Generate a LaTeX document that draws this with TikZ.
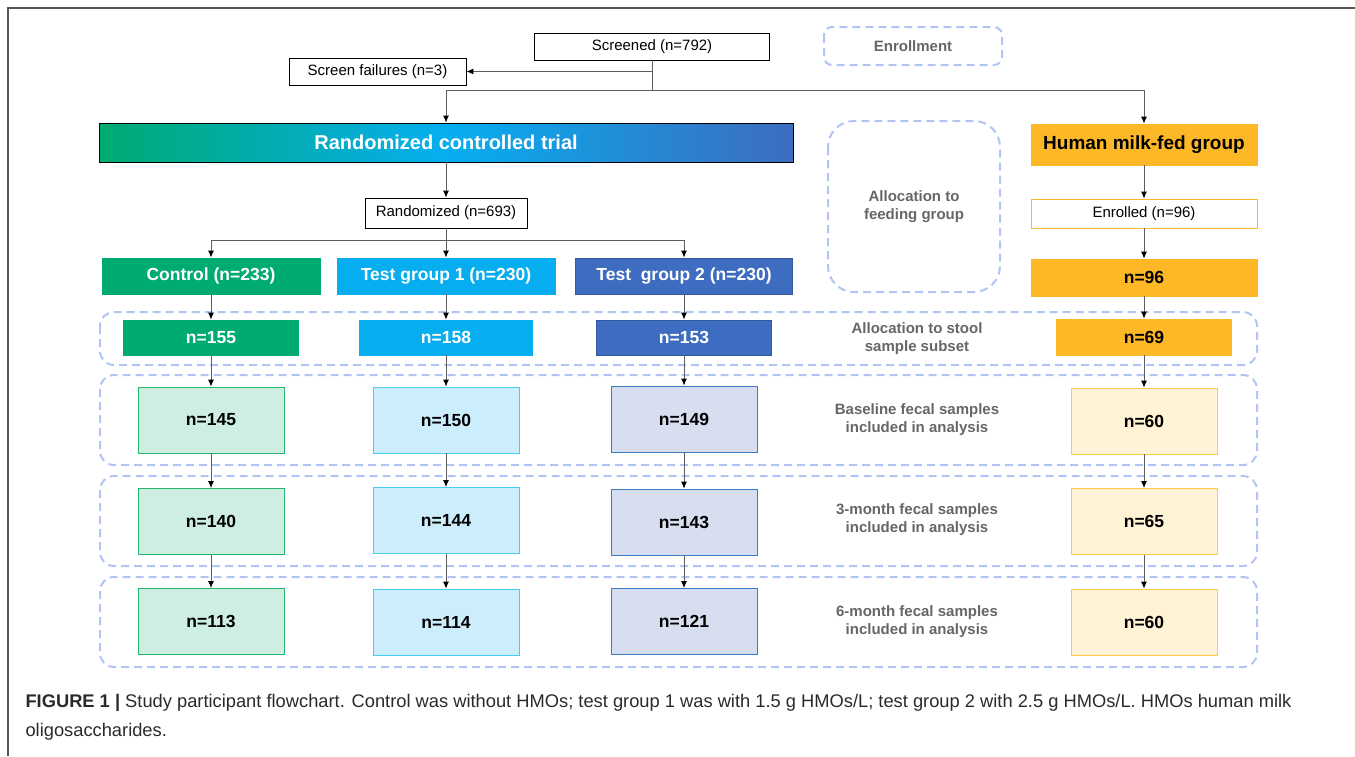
\documentclass[tikz,border=0pt]{standalone}
\usepackage{fontspec}
\setmainfont{Liberation Sans}
\usepackage{xcolor}
\usepackage{tikz}
\usetikzlibrary{arrows.meta,calc,positioning}

\definecolor{ctrlgreen}{HTML}{00AB72}
\definecolor{tonecyan}{HTML}{06AEF0}
\definecolor{ttwoblue}{HTML}{3D6CC0}
\definecolor{ttwoedge}{HTML}{2F5A9E}
\definecolor{hmorange}{HTML}{FDB827}
\definecolor{ltgreen}{HTML}{CDEEE1}
\definecolor{ltgreenedge}{HTML}{27B46E}
\definecolor{ltcyan}{HTML}{CCEEFC}
\definecolor{ltcyanedge}{HTML}{46CCF5}
\definecolor{ltblue}{HTML}{D6DEF0}
\definecolor{ltblueedge}{HTML}{3A7BC8}
\definecolor{ltyellow}{HTML}{FFF2D5}
\definecolor{ltyellowedge}{HTML}{FFCB45}
\definecolor{dashblue}{HTML}{B0C4F6}
\definecolor{lblgray}{HTML}{666666}
\definecolor{linegray}{HTML}{5E5E5E}
\definecolor{framegray}{HTML}{555555}
\definecolor{captext}{HTML}{2A2A2A}

\begin{document}
\begin{tikzpicture}[x=1pt, y=-1pt,
box/.style={draw, rectangle, inner sep=0pt, line width=0.8pt, align=center},
small/.style={box, font=\fontsize{15}{18}\selectfont},
head/.style={box, font=\fontsize{17.5}{21}\selectfont\bfseries},
cnt/.style={box, minimum width=146pt, minimum height=66pt, font=\fontsize{17.5}{21}\selectfont\bfseries},
band/.style={draw=dashblue, line width=2pt, dash pattern=on 8pt off 5pt, rounded corners=14pt},
lbl/.style={text=lblgray, font=\fontsize{15}{18}\selectfont\bfseries, align=center},
myto/.style={draw=linegray, line width=0.9pt, -{Latex[length=7pt,width=6pt,color=black]}},
myline/.style={draw=linegray, line width=0.9pt}]
\useasboundingbox (0,0) rectangle (1355,756);
\draw[framegray, line width=1.5pt] (8,756) -- (8,8) -- (1355,8);

% dashed stage frames
\draw[band, rounded corners=8pt] (824,27) rectangle (1002,65);
\draw[band, rounded corners=26pt] (828,121) rectangle (1000,292);
\draw[band] (100,312) rectangle (1257,365);
\draw[band] (100,375) rectangle (1257,465);
\draw[band] (100,476) rectangle (1257,566);
\draw[band] (100,577) rectangle (1257,667);

\node[lbl] (enrl) at (913,46) {Enrollment};
\node[lbl] (feed) at (914,207) {Allocation to\\feeding group};
\node[lbl] (stool) at (917,339) {Allocation to stool\\sample subset};
\node[lbl] (base) at (917,420) {Baseline fecal samples\\included in analysis};
\node[lbl] (three) at (917,520) {3-month fecal samples\\included in analysis};
\node[lbl] (six) at (917,622) {6-month fecal samples\\included in analysis};

% screening
\node[small, minimum width=235pt, minimum height=27pt] (scr) at (652,46.5) {Screened (n=792)};
\node[small, minimum width=177pt, minimum height=27pt] (fail) at (377.5,71.5) {Screen failures (n=3)};
\node[box, minimum width=694pt, minimum height=39pt, left color=ctrlgreen, right color=ttwoblue, middle color=tonecyan, text=white, font=\fontsize{20}{24}\selectfont\bfseries] (rct) at (446,142.5) {Randomized controlled trial};
\node[box, draw=hmorange, fill=hmorange, minimum width=226pt, minimum height=41pt, font=\fontsize{19}{23}\selectfont\bfseries] (hmf) at (1144,144.5) {Human milk-fed group};
\node[small, minimum width=162pt, minimum height=30pt] (rand) at (446,213) {Randomized (n=693)};
\node[small, draw=hmorange, minimum width=226pt, minimum height=29pt] (enr) at (1144,213.5) {Enrolled (n=96)};

% groups
\node[head, draw=ctrlgreen, fill=ctrlgreen, text=white, minimum width=218pt, minimum height=36pt] (ctrl) at (211,276) {Control (n=233)};
\node[head, draw=tonecyan, fill=tonecyan, text=white, minimum width=218pt, minimum height=36pt] (tone) at (446,276) {Test group 1 (n=230)};
\node[head, draw=ttwoedge, fill=ttwoblue, text=white, minimum width=217pt, minimum height=36pt] (ttwo) at (684,276) {Test\ \ group 2 (n=230)};
\node[head, draw=hmorange, fill=hmorange, minimum width=226pt, minimum height=37pt] (hm) at (1144,277.5) {n=96};

% stool subset
\node[head, draw=ctrlgreen, fill=ctrlgreen, text=white, minimum width=175pt, minimum height=35pt] (c1) at (211,337.5) {n=155};
\node[head, draw=tonecyan, fill=tonecyan, text=white, minimum width=173pt, minimum height=35pt] (a1) at (446,337.5) {n=158};
\node[head, draw=ttwoedge, fill=ttwoblue, text=white, minimum width=175pt, minimum height=35pt] (b1) at (684,337.5) {n=153};
\node[head, draw=hmorange, fill=hmorange, minimum width=175pt, minimum height=36pt] (h1) at (1144,337) {n=69};

% fecal samples
\node[cnt, draw=ltgreenedge, fill=ltgreen] (c2) at (211,420) {n=145};
\node[cnt, draw=ltcyanedge, fill=ltcyan] (a2) at (446,420) {n=150};
\node[cnt, draw=ltblueedge, fill=ltblue] (b2) at (684,419) {n=149};
\node[cnt, draw=ltyellowedge, fill=ltyellow] (h2) at (1144,421) {n=60};

\node[cnt, draw=ltgreenedge, fill=ltgreen] (c3) at (211,521.5) {n=140};
\node[cnt, draw=ltcyanedge, fill=ltcyan] (a3) at (446,520.5) {n=144};
\node[cnt, draw=ltblueedge, fill=ltblue] (b3) at (684,522) {n=143};
\node[cnt, draw=ltyellowedge, fill=ltyellow] (h3) at (1144,521.5) {n=65};

\node[cnt, draw=ltgreenedge, fill=ltgreen] (c4) at (211,621.5) {n=113};
\node[cnt, draw=ltcyanedge, fill=ltcyan] (a4) at (446,622) {n=114};
\node[cnt, draw=ltblueedge, fill=ltblue] (b4) at (684,621.5) {n=121};
\node[cnt, draw=ltyellowedge, fill=ltyellow] (h4) at (1144,622) {n=60};

% connectors
\coordinate (split) at (652,90);
\coordinate (rsplit) at (446,240);
\draw[myline] (scr.south) -- (split);
\draw[myto] (scr.south |- fail.east) -- (fail.east);
\draw[myto] (split) -| (rct.north);
\draw[myto] (split) -| (hmf.north);
\draw[myto] (rct.south) -- (rand.north);
\draw[myline] (rand.south) -- (rsplit);
\foreach \j in {ctrl,tone,ttwo}{\draw[myto] (rsplit) -| (\j.north);}
\foreach \i/\j in {ctrl/c1,c1/c2,c2/c3,c3/c4,tone/a1,a1/a2,a2/a3,a3/a4,ttwo/b1,b1/b2,b2/b3,b3/b4,hmf/enr,enr/hm,hm/h1,h1/h2,h2/h3,h3/h4}{\draw[myto] (\i.south) -- (\j.north);}

\node[anchor=west, align=left, text=captext, font=\fontsize{18.3}{29}\selectfont] (cap) at (22,717) {\textbf{FIGURE 1 |} Study participant flowchart. Control was without HMOs; test group 1 was with 1.5 g HMOs/L; test group 2 with 2.5 g HMOs/L. HMOs human milk\\oligosaccharides.};
\end{tikzpicture}
\end{document}
